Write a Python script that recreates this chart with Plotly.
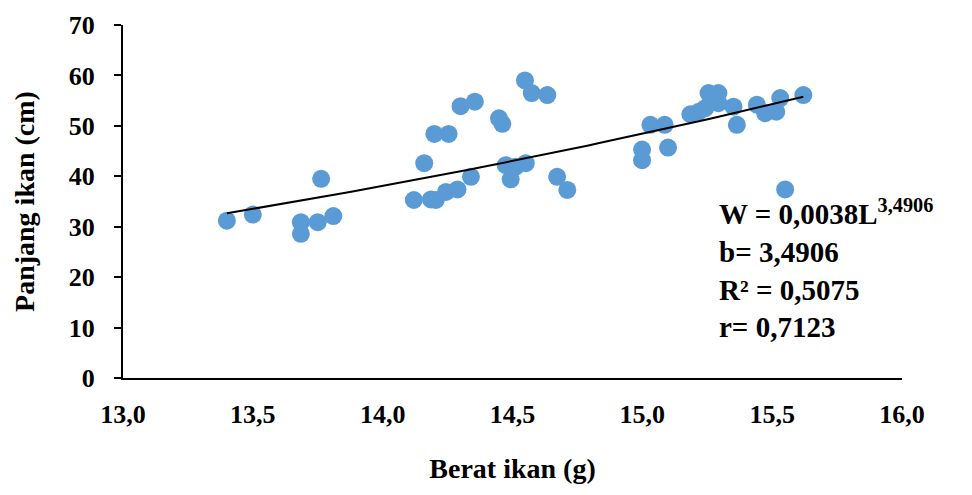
import numpy as np
import plotly.graph_objects as go

# Data
berat = [13.40, 13.50, 13.685, 13.685, 13.75, 13.81, 13.763,
         14.12, 14.186, 14.205, 14.244, 14.288, 14.34, 14.16,
         14.199, 14.254, 14.30, 14.355, 14.448, 14.461, 14.474,
         14.512, 14.493, 14.551, 14.548, 14.574, 14.634, 14.672,
         14.711, 14.999, 14.999, 15.031, 15.086, 15.099, 15.185,
         15.217, 15.242, 15.255, 15.293, 15.293, 15.351, 15.364,
         15.441, 15.473, 15.516, 15.531, 15.62, 15.55]
panjang = [31.2, 32.4, 30.9, 28.6, 30.9, 32.1, 39.5,
           35.3, 35.4, 35.3, 36.9, 37.4, 39.9, 42.6,
           48.4, 48.4, 53.9, 54.8, 51.5, 50.4, 42.2,
           41.9, 39.4, 42.6, 59.0, 56.5, 56.1, 39.9,
           37.3, 45.3, 43.2, 50.2, 50.2, 45.7, 52.3,
           52.8, 53.5, 56.5, 56.5, 54.5, 53.8, 50.2,
           54.2, 52.5, 52.8, 55.5, 56.1, 37.4]

# Power trendline coefficients shown on the chart
coef_a = 0.0038
coef_b = 3.4906
x_ticks = [13.0, 13.5, 14.0, 14.5, 15.0, 15.5, 16.0]
x_tick_labels = ["13,0", "13,5", "14,0", "14,5", "15,0", "15,5", "16,0"]
y_ticks = [0, 10, 20, 30, 40, 50, 60, 70]

trend_x = np.linspace(min(berat), max(berat), 60)
trend_y = coef_a * trend_x ** coef_b

FONT = "Liberation Serif"

fig = go.Figure()
fig.add_trace(go.Scatter(
    x=berat, y=panjang, mode="markers",
    marker=dict(size=18, color="#5B9BD5", line=dict(width=0)),
    showlegend=False, hoverinfo="x+y"))
fig.add_trace(go.Scatter(
    x=trend_x, y=trend_y, mode="lines",
    line=dict(color="black", width=2),
    showlegend=False, hoverinfo="skip"))

fig.update_layout(
    width=964, height=487,
    margin=dict(l=115, r=70, t=17, b=117, autoexpand=False),
    paper_bgcolor="white", plot_bgcolor="white",
    font=dict(family=FONT, color="black"),
    xaxis=dict(
        range=[13.0, 16.0], tickvals=x_ticks, ticktext=x_tick_labels,
        showgrid=False, zeroline=False, showline=True, automargin=False,
        linecolor="black", linewidth=2, ticks="", ticklabelstandoff=12,
        tickfont=dict(family=FONT, size=26, color="black", weight="bold"),
        title=dict(text="<b>Berat ikan (g)</b>", standoff=30,
                   font=dict(family=FONT, size=28, color="black"))),
    yaxis=dict(
        range=[0, 70], tickvals=y_ticks,
        showgrid=False, zeroline=False, showline=True, automargin=False,
        linecolor="black", linewidth=2, ticks="outside", ticklen=7,
        tickwidth=2, tickcolor="black", ticklabelstandoff=14,
        tickfont=dict(family=FONT, size=26, color="black", weight="bold"),
        title=dict(text="<b>Panjang ikan (cm)</b>", standoff=26,
                   font=dict(family=FONT, size=28, color="black"))),
    annotations=[dict(
        xref="paper", yref="paper", x=0.762, y=0.31,
        xanchor="left", yanchor="middle", align="left", showarrow=False,
        text=("<b>W = 0,0038L<sup>3,4906</sup></b><br><b>b= 3,4906</b><br>"
              "<b>R² = 0,5075</b><br><b>r= 0,7123</b>"),
        font=dict(family=FONT, size=29, color="black"))],
)

fig.write_html("out.html")
